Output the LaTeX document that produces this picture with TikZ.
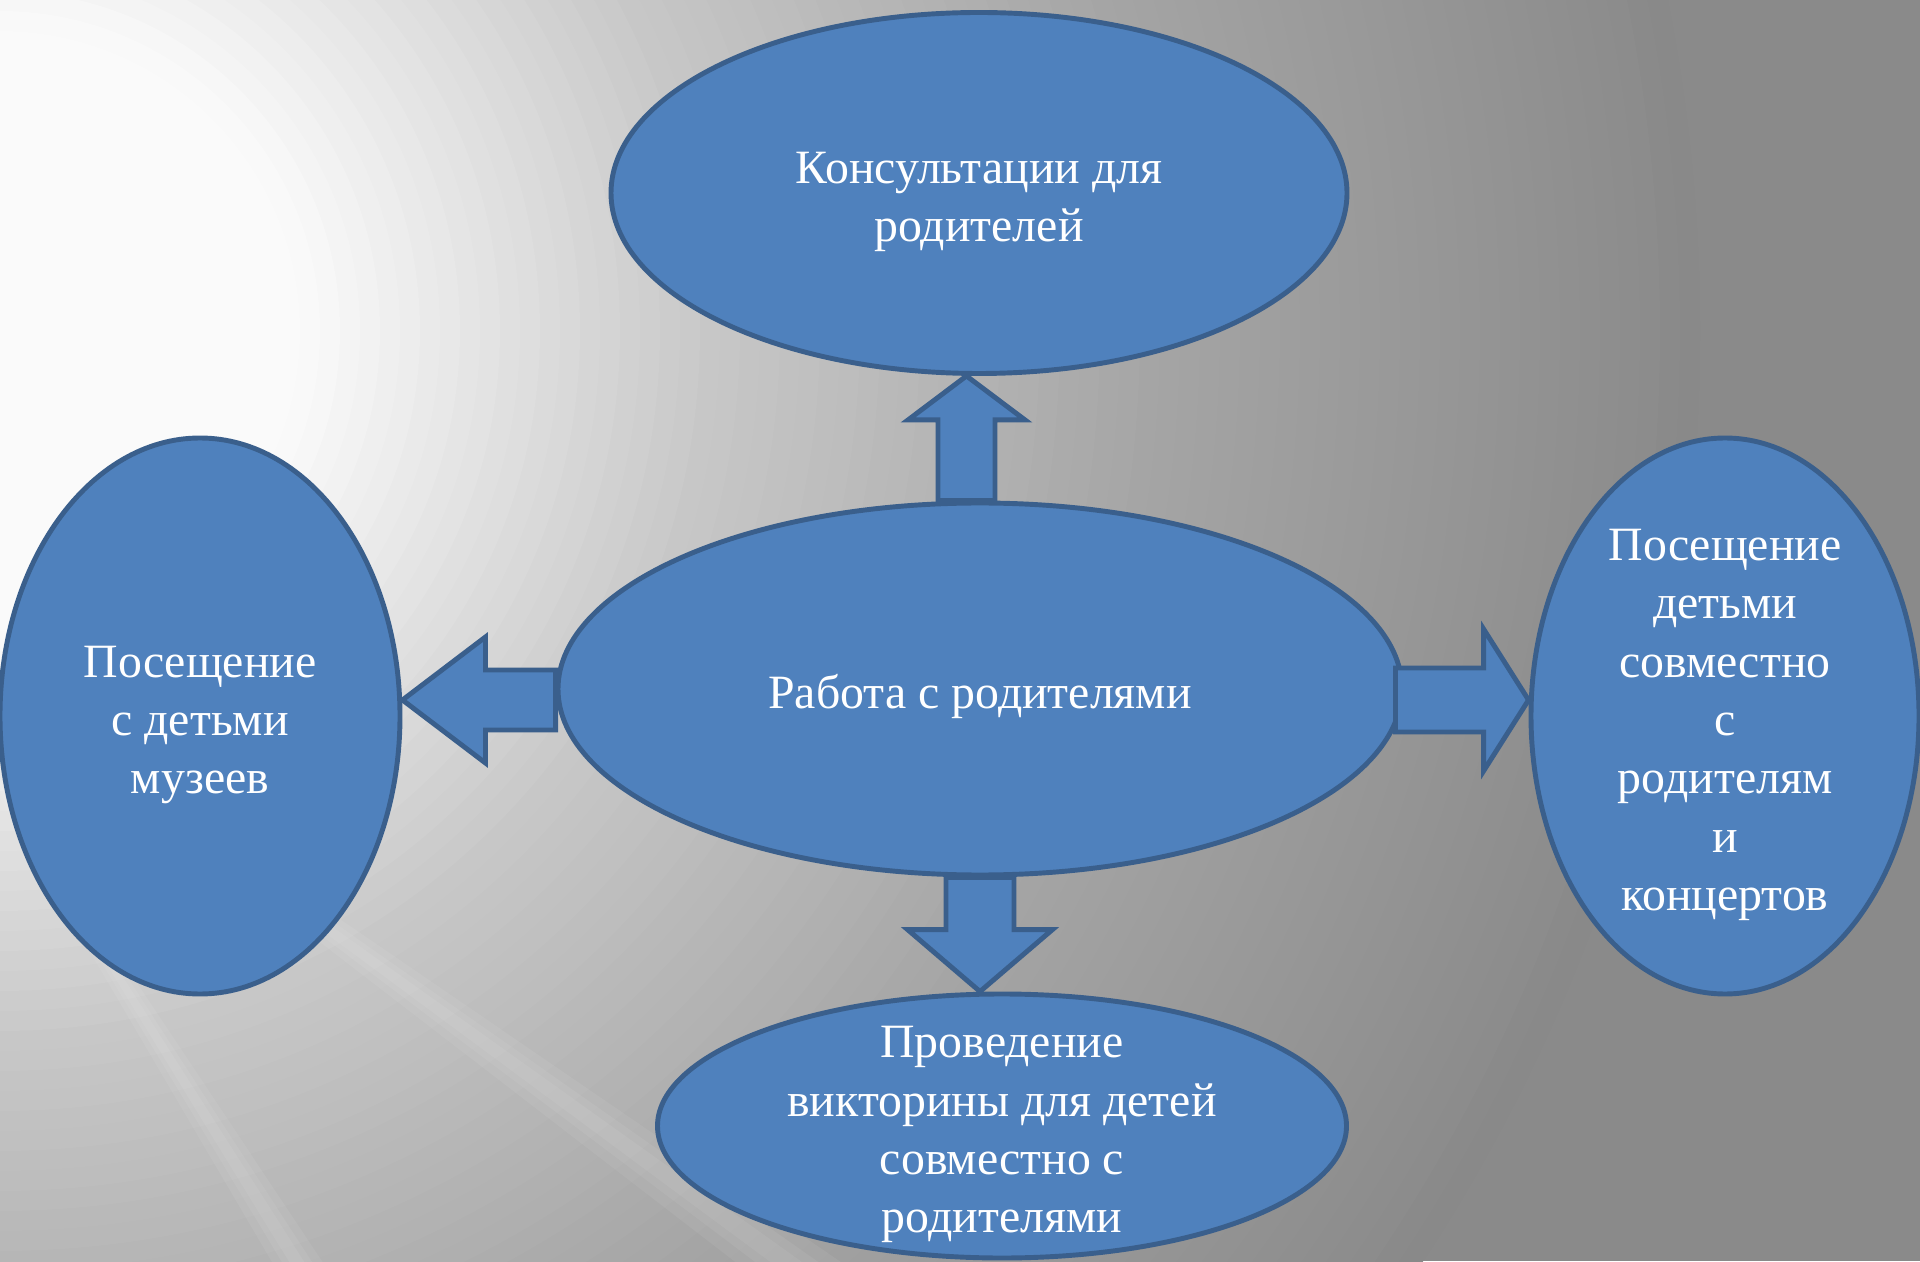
\documentclass[tikz,border=0pt]{standalone}
\usepackage{fontspec}
\setmainfont{Liberation Serif}
\usetikzlibrary{shapes.geometric,calc}

\definecolor{boxblue}{HTML}{4F81BD}
\definecolor{boxline}{HTML}{3A5F8C}
\newcommand{\lowtext}[1]{\raisebox{-2.2pt}[\height][\depth]{\begin{tabular}{@{}c@{}}#1\end{tabular}}}

\tikzset{
  idea/.style={ellipse, draw=boxline, line width=1.4pt, fill=boxblue, text=white,
    inner sep=-5mm, font=\fontsize{13.6}{16.6}\selectfont},
  fatarrow/.style={draw=boxline, line width=1.4pt, fill=boxblue, line join=miter},
  ray/.style={white, fill opacity=0.06}
}

\begin{document}
\begin{tikzpicture}
\useasboundingbox (0,0) rectangle (19.2,12.61);
\begin{scope}
\clip (0,0) rectangle (19.2,12.61);
\fill[color={rgb,255:red,138;green,138;blue,138}] (0,0) rectangle (19.2,12.61);
\foreach \r in {17,16.8,...,0.2}{
  \pgfmathtruncatemacro{\g}{\r<3.2 ? 250 : (\r<7.2 ? 250-12.5*(\r-3.2) : (\r<11.7 ? 200-7.78*(\r-7.2) : 165-5.1*(\r-11.7)))}
  \fill[color={rgb,255:red,\g;green,\g;blue,\g}] (0,9.3) circle (\r);
}
% light rays
\coordinate (glow) at (-1.1,6.5);
\foreach \ang in {-58,-36}{
  \foreach \k in {1,0.6,0.3}{
    \pgfmathsetmacro{\lo}{\ang-1.6*\k}
    \pgfmathsetmacro{\hi}{\ang+1.6*\k}
    \fill[ray] (glow) -- ([shift={(\lo:20)}]glow) -- ([shift={(\hi:20)}]glow) -- cycle;
  }
}
\end{scope}

\node[idea, minimum width=8.44cm, minimum height=3.72cm] (work) at (9.80,5.72) {\lowtext{Работа с родителями}};
\node[idea, minimum width=7.36cm, minimum height=3.61cm] (consult) at (9.79,10.68) {\lowtext{Консультации для\\родителей}};
\node[idea, minimum width=4.00cm, minimum height=5.56cm] (museum) at (2.00,5.45) {\lowtext{Посещение\\с детьми\\музеев}};
\node[idea, minimum width=3.88cm, minimum height=5.56cm] (concert) at (17.25,5.45) {\lowtext{Посещение\\детьми\\совместно\\с\\родителям\\и\\концертов}};
\node[idea, minimum width=6.89cm, minimum height=2.64cm] (quiz) at (10.02,1.35) {\lowtext{Проведение\\викторины для детей\\совместно с\\родителями}};

% up
\draw[fatarrow] let \p1=([xshift=-1.35mm]work.north), \p2=(consult.south) in
  (\x1-2.85mm,\y1) -- (\x1-2.85mm,\y2-4.4mm) -- (\x1-5.85mm,\y2-4.4mm) -- (\x1,\y2)
  -- (\x1+5.85mm,\y2-4.4mm) -- (\x1+2.85mm,\y2-4.4mm) -- (\x1+2.85mm,\y1) -- cycle;
% down
\draw[fatarrow] let \p1=(work.south), \p2=(quiz.north) in
  (\x1-3.4mm,\y1) -- (\x1-3.4mm,\y2+6.2mm) -- (\x1-7.25mm,\y2+6.2mm) -- (\x1,\y2)
  -- (\x1+7.25mm,\y2+6.2mm) -- (\x1+3.4mm,\y2+6.2mm) -- (\x1+3.4mm,\y1) -- cycle;
% left
\draw[fatarrow] let \p1=([yshift=-1.1mm]work.west), \p2=(museum.east) in
  (\x1,\y1+3mm) -- (\x2+8.3mm,\y1+3mm) -- (\x2+8.3mm,\y1+6.3mm) -- (\x2,\y1)
  -- (\x2+8.3mm,\y1-6.3mm) -- (\x2+8.3mm,\y1-3mm) -- (\x1,\y1-3mm) -- cycle;
% right
\draw[fatarrow] let \p1=([xshift=-0.9mm,yshift=-1.1mm]work.east), \p2=(concert.west) in
  (\x1,\y1+3.2mm) -- (\x2-4.5mm,\y1+3.2mm) -- (\x2-4.5mm,\y1+7.1mm) -- (\x2,\y1)
  -- (\x2-4.5mm,\y1-7.1mm) -- (\x2-4.5mm,\y1-3.2mm) -- (\x1,\y1-3.2mm) -- cycle;
\end{tikzpicture}
\end{document}
